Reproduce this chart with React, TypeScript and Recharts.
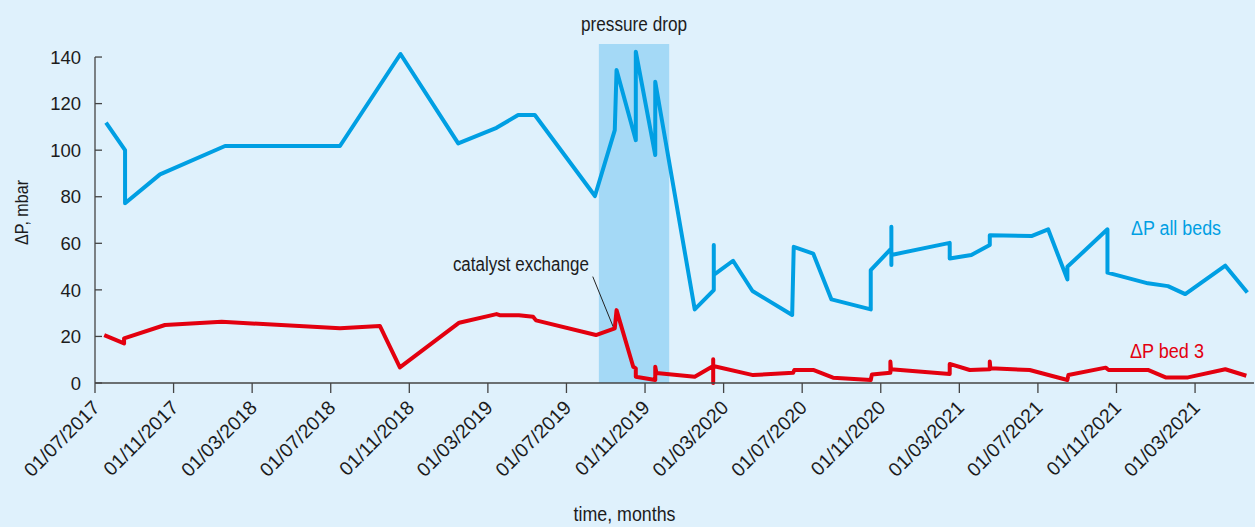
import { LineChart, Line, XAxis, YAxis, ReferenceArea, ReferenceLine, ReferenceDot } from 'recharts'

// months counted from 01/07/2017
const tickMonths = [0, 4, 8, 12, 16, 20, 24, 28, 32, 36, 40, 44, 48, 52, 56]
const tickLabels = [
  '01/07/2017', '01/11/2017', '01/03/2018', '01/07/2018', '01/11/2018',
  '01/03/2019', '01/07/2019', '01/11/2019', '01/03/2020', '01/07/2020',
  '01/11/2020', '01/03/2021', '01/07/2021', '01/11/2021', '01/03/2021',
]
const yTicks = [0, 20, 40, 60, 80, 100, 120, 140]

const allBedsMonths = [
  0.56, 1.53, 1.53, 3.31, 6.62, 12.47, 15.55, 18.49, 20.44, 21.54,
  22.39, 25.45, 26.46, 26.55, 27.53, 27.53, 28.52, 28.52, 30.53, 31.5,
  31.5, 31.5, 32.48, 33.47, 35.49, 35.57, 36.56, 37.49, 39.49, 39.49,
  40.54, 40.54, 40.54, 40.54, 43.51, 43.51, 44.61, 45.55, 45.55, 47.67,
  48.52, 49.5, 49.5, 51.54, 51.54, 53.6, 54.62, 55.5, 57.54, 58.66,
]
const allBedsValues = [
  111.8, 100, 77.2, 89.6, 101.8, 101.8, 141.3, 102.9, 109.6, 115.1,
  115.1, 80.3, 108.6, 134.4, 104.3, 142.3, 97.9, 129.4, 31.6, 39.9,
  59.3, 46.4, 52.5, 39.5, 29.2, 58.5, 55.6, 35.9, 31.6, 48.5,
  57.8, 67.1, 50.7, 55, 60.2, 53.5, 55, 59.3, 63.5, 63.1,
  66, 44.5, 49.9, 66, 47.4, 42.8, 41.6, 38.2, 50.4, 38.9,
]

const bed3Months = [
  0.47, 1.48, 1.48, 3.56, 6.45, 12.47, 14.5, 15.52, 18.54, 20.44,
  20.6, 21.58, 22.3, 22.45, 25.5, 26.46, 26.55, 27.4, 27.53, 27.53,
  28.52, 28.52, 28.58, 30.53, 31.47, 31.47, 31.47, 31.47, 33.5, 35.54,
  35.6, 36.56, 37.57, 39.49, 39.55, 40.49, 40.49, 40.52, 43.51, 43.51,
  44.53, 45.55, 45.55, 45.58, 47.58, 49.5, 49.55, 51.45, 51.6, 53.6,
  54.5, 55.64, 57.54, 58.61,
]
const bed3Values = [
  20.6, 17, 19.2, 24.9, 26.3, 23.5, 24.5, 6.7, 25.9, 29.6,
  29.1, 29.1, 28.5, 26.9, 20.6, 23.5, 31.3, 7, 6.3, 2.7,
  1.3, 7, 4.3, 2.7, 7.3, 10.2, 0, 7.3, 3.4, 4.4,
  5.6, 5.6, 2.3, 1.3, 3.7, 4.4, 9.2, 5.9, 3.9, 8.2,
  5.6, 5.9, 9.2, 6.3, 5.6, 1.3, 3.4, 6.6, 5.6, 5.6,
  2.4, 2.4, 5.9, 3.1,
]

const allBeds = allBedsMonths.map((m, i) => ({ m, v: allBedsValues[i] }))
const bed3 = bed3Months.map((m, i) => ({ m, v: bed3Values[i] }))

const BG = '#dff1fc'
const SHADE = '#a4d9f6'
const BLUE = '#009fe3'
const RED = '#e3000f'
const INK = '#1c1c1c'
const AXIS = '#444'
const FONT = "'Liberation Sans', Arial, sans-serif"

// condensed look: squeeze the text to the width it has in the print
const Squeezed = ({ x, y, width, color, children, size = 19.5 }: any) => (
  <text x={x} y={y} textAnchor="middle" dy="0.36em" fontSize={size} fontFamily={FONT} fill={color}
    textLength={width} lengthAdjust="spacingAndGlyphs">
    {children}
  </text>
)

const dotLabel = (text: string, width: number, color: string) => (props: any) => {
  const vb = props.viewBox ?? {}
  return (
    <Squeezed x={vb.x + (vb.width ?? 0) / 2} y={vb.y + (vb.height ?? 0) / 2} width={width} color={color}>
      {text}
    </Squeezed>
  )
}

const areaLabel = (props: any) => {
  const vb = props.viewBox
  return (
    <Squeezed x={vb.x + vb.width / 2} y={vb.y - 20} width={106} color={INK}>
      pressure drop
    </Squeezed>
  )
}

const XTick = ({ x, y, payload }: any) => {
  const label = tickLabels[tickMonths.indexOf(payload.value)]
  return (
    <g transform={`translate(${x},${y}) rotate(-45)`}>
      <text x={-7} y={15.5} textAnchor="end" fontSize={19.5} fontFamily={FONT} fill={INK}>
        {label}
      </text>
    </g>
  )
}

const YTick = ({ x, y, payload }: any) => (
  <g>
    <line x1={x} x2={x + 7} y1={y} y2={y} stroke={AXIS} strokeWidth={1.3} />
    <text x={x - 14} y={y} dy="0.36em" textAnchor="end" fontSize={18.5} fontFamily={FONT} fill={INK}>
      {payload.value}
    </text>
  </g>
)

const YTitle = ({ viewBox }: any) => {
  const vb = viewBox ?? { x: 0, y: 44, width: 95, height: 339 }
  const cx = vb.x + 21
  const cy = vb.y + vb.height / 2 - 1
  return (
    <g transform={`rotate(-90, ${cx}, ${cy})`}>
      <Squeezed x={cx} y={cy} width={65} color={INK} size={19}>ΔP, mbar</Squeezed>
    </g>
  )
}

const XTitle = ({ viewBox }: any) => {
  const vb = viewBox ?? { x: 95, y: 383, width: 1159, height: 144 }
  return (
    <Squeezed x={vb.x + vb.width / 2 - 50} y={vb.y + vb.height - 13} width={102} color={INK}>
      time, months
    </Squeezed>
  )
}

export default function App() {
  return (
    <div style={{ position: 'absolute', left: 0, top: 0, width: 1255, height: 527, background: BG }}>
      <LineChart width={1255} height={527} data={allBeds} margin={{ top: 44, right: 1, bottom: 0, left: 0 }}>
        <ReferenceArea x1={25.65} x2={29.23} y1={0} y2={145.6} fill={SHADE} fillOpacity={1} stroke="none"
          label={areaLabel} />
        <XAxis dataKey="m" type="number" domain={[0, 59]} ticks={tickMonths} interval={0}
          height={144} tickSize={10} tickMargin={0} stroke={AXIS} strokeWidth={1.3}
          tick={<XTick />} label={XTitle} />
        <YAxis type="number" domain={[0, 145.6]} ticks={yTicks} interval={0} width={95}
          axisLine={false} tickLine={false} tickSize={0} tickMargin={0} tick={<YTick />} label={YTitle} />
        <ReferenceLine segment={[{ x: 0, y: 0 }, { x: 0, y: 140 }]} stroke={AXIS} strokeWidth={1.3} ifOverflow="visible" />
        <ReferenceLine segment={[{ x: 25.34, y: 45.7 }, { x: 26.38, y: 24.1 }]} stroke="#222" strokeWidth={1} />
        <ReferenceDot x={21.68} y={51.1} r={0} fill="none" stroke="none"
          label={dotLabel('catalyst exchange', 136, INK)} />
        <ReferenceDot x={55.03} y={66.6} r={0} fill="none" stroke="none"
          label={dotLabel('ΔP all beds', 90, BLUE)} />
        <ReferenceDot x={54.57} y={13.7} r={0} fill="none" stroke="none"
          label={dotLabel('ΔP bed 3', 74, RED)} />
        <Line data={allBeds} dataKey="v" type="linear" stroke={BLUE} strokeWidth={4} dot={false}
          strokeLinejoin="round" isAnimationActive={false} />
        <Line data={bed3} dataKey="v" type="linear" stroke={RED} strokeWidth={4} dot={false}
          strokeLinejoin="round" isAnimationActive={false} />
      </LineChart>
    </div>
  )
}
